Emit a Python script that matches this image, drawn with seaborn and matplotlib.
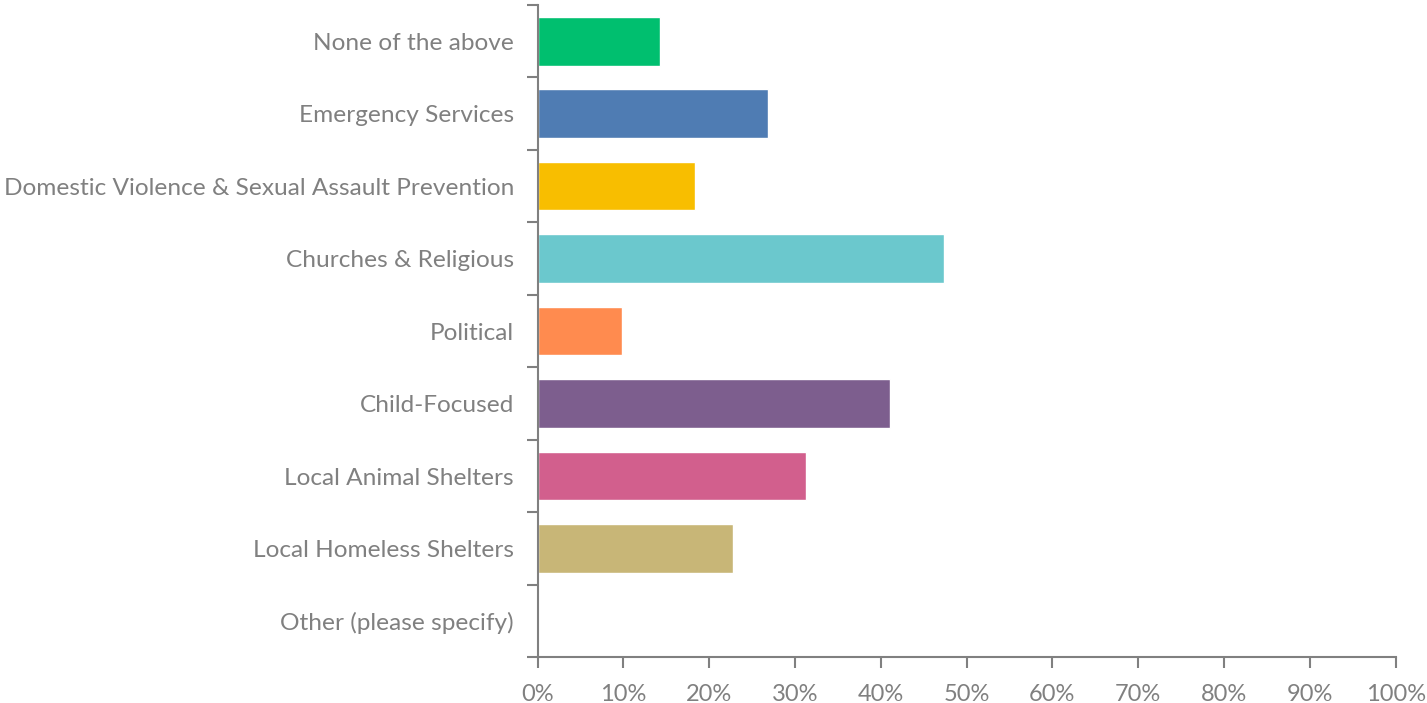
import matplotlib
matplotlib.use("Agg")
import matplotlib.pyplot as plt
import seaborn as sns
import pandas as pd
import numpy as np
from matplotlib.ticker import FixedLocator, PercentFormatter

categories = [
    "None of the above",
    "Emergency Services",
    "Domestic Violence & Sexual Assault Prevention",
    "Churches & Religious",
    "Political",
    "Child-Focused",
    "Local Animal Shelters",
    "Local Homeless Shelters",
    "Other (please specify)",
]
values = [14.3, 26.9, 18.3, 47.4, 9.8, 41.1, 31.3, 22.8, 0.0]
colors = ["#00BF6F", "#4F7CB3", "#F8BE00", "#6BC8CD", "#FF8B4F",
          "#7D5E8E", "#D25F8D", "#C8B677", "#A0A0A0"]
x_ticks = [0, 10, 20, 30, 40, 50, 60, 70, 80, 90, 100]

sns.set_theme(style="white")
plt.rcParams['font.family'] = ['Lato', 'DejaVu Sans']

df = pd.DataFrame({"cat": categories, "val": values})

fig = plt.figure(figsize=(14.27, 7.03), dpi=100)
ax = fig.add_axes([0.3767, 0.065, 0.978 - 0.3767, 0.9929 - 0.065])

sns.barplot(data=df, x="val", y="cat", hue="cat", palette=colors,
            legend=False, width=0.67, ax=ax, saturation=1)

gray = "#808080"
ax.set_xlim(0, 100)
ax.set_ylim(len(categories) - 0.5, -0.5)
ax.set_xlabel("")
ax.set_ylabel("")

ax.xaxis.set_major_locator(FixedLocator(x_ticks))
ax.xaxis.set_major_formatter(PercentFormatter(decimals=0))

n = len(categories)
ax.yaxis.set_major_locator(FixedLocator(np.arange(-0.5, n, 1.0)))
ax.yaxis.set_major_formatter(plt.NullFormatter())
ax.yaxis.set_minor_locator(FixedLocator(np.arange(n)))
ax.set_yticklabels(categories, minor=True)

ax.tick_params(axis="y", which="major", length=8, width=1.5, color=gray, direction="out", left=True)
ax.tick_params(axis="y", which="minor", length=0, pad=17, labelsize=17.6, labelcolor=gray)
ax.tick_params(axis="x", which="major", length=8, width=1.5, color=gray, direction="out",
               bottom=True, labelsize=17, labelcolor=gray, pad=11)

for s in ["top", "right"]:
    ax.spines[s].set_visible(False)
for s in ["left", "bottom"]:
    ax.spines[s].set_visible(True)
    ax.spines[s].set_color(gray)
    ax.spines[s].set_linewidth(1.5)

fig.savefig("out.png", dpi=100)
